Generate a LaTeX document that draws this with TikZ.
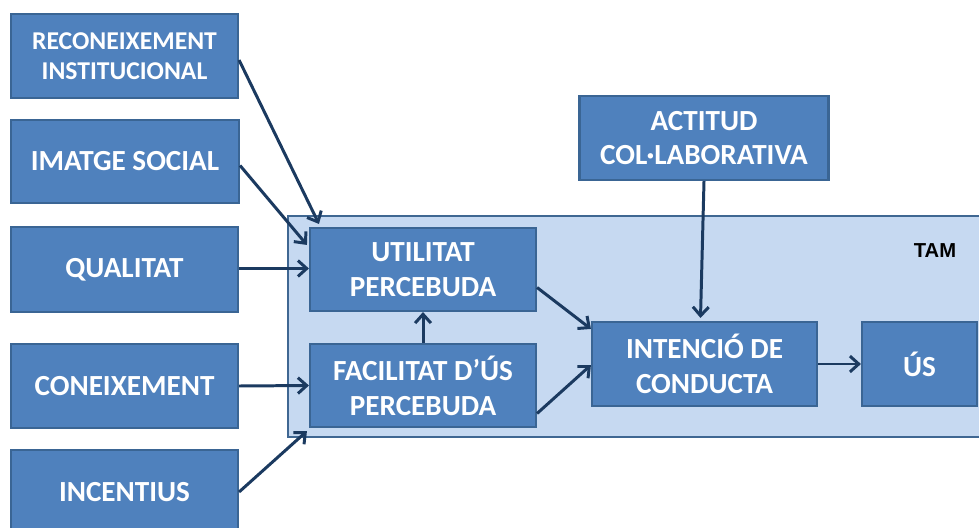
\documentclass[tikz,border=0pt]{standalone}
\usepackage{fontspec}
\newfontfamily\carlito{Carlito}
\newfontfamily\libsans{Liberation Sans}
\usetikzlibrary{arrows.meta,calc}
\definecolor{boxc}{HTML}{4F81BD}
\definecolor{bordc}{HTML}{3A6594}
\definecolor{contc}{HTML}{C6D9F1}
\definecolor{contb}{HTML}{3F6792}
\definecolor{arrc}{HTML}{1B3A60}
\tikzset{
  box/.style={draw=bordc, fill=boxc, line width=1.2pt, inner sep=0pt, text=white, align=center,
    font=\carlito\bfseries\fontsize{16.6}{19.8}\selectfont},
  smallbox/.style={box, font=\carlito\bfseries\fontsize{14.6}{17}\selectfont},
  cont/.style={draw=contb, fill=contc, line width=1.4pt, inner sep=0pt},
  conn/.style={draw=arrc, line width=1.7pt, -{Straight Barb[length=5pt,width=9pt]}},
}
\begin{document}
\begin{tikzpicture}[x=0.02cm,y=-0.02cm]
\useasboundingbox (0,0) rectangle (979,527);
\clip (0,0) rectangle (979,527);
\fill[white] (0,0) rectangle (979,527);
% container
\node[cont, minimum width=712*0.02cm, minimum height=221*0.02cm] (tam) at (644,326.5) {};
\node[font=\libsans\bfseries\fontsize{11.5}{13}\selectfont, text=black] (tamlbl) at (935,251) {TAM};
% left boxes
\node[smallbox, minimum width=227*0.02cm, minimum height=84*0.02cm] (b1) at (124.5,56) {RECONEIXEMENT\\INSTITUCIONAL};
\node[box, minimum width=228*0.02cm, minimum height=83*0.02cm] (b2) at (125,161.5) {IMATGE SOCIAL};
\node[box, minimum width=227*0.02cm, minimum height=85*0.02cm] (b3) at (124.5,269.5) {QUALITAT};
\node[box, minimum width=227*0.02cm, minimum height=84*0.02cm] (b4) at (124.5,386) {CONEIXEMENT};
\node[box, minimum width=227*0.02cm, minimum height=84*0.02cm] (b5) at (124.5,492) {INCENTIUS};
% inner boxes
\node[box, minimum width=226*0.02cm, minimum height=83*0.02cm] (util) at (423,269.5) {UTILITAT\\PERCEBUDA};
\node[box, minimum width=226*0.02cm, minimum height=83*0.02cm] (fac) at (423,385.5) {FACILITAT D’ÚS\\PERCEBUDA};
\node[box, minimum width=225*0.02cm, minimum height=84*0.02cm] (int) at (704.5,364) {INTENCIÓ DE\\CONDUCTA};
\node[box, minimum width=115*0.02cm, minimum height=84*0.02cm] (us) at (919.5,364) {ÚS};
\node[box, minimum width=249*0.02cm, minimum height=84*0.02cm] (act) at (704,138) {ACTITUD\\COL·LABORATIVA};
% connectors
\draw[conn] ($(b1.east)+(0,4)$) -- ($(util.north west)+(10,-3)$);
\draw[conn] ($(b2.east)+(0,4)$) -- ($(util.north west)+(-2,18)$);
\draw[conn] ($(b3.east)+(0,-1)$) -- ($(util.west)+(0,-1)$);
\draw[conn] (b4.east) -- (fac.west);
\draw[conn] (b5.east) -- ($(fac.south west)+(-2,3)$);
\draw[conn] (fac.north) -- (util.south);
\draw[conn] ($(util.east)+(0,18)$) -- ($(int.north west)+(0,8)$);
\draw[conn] ($(fac.east)+(0,28)$) -- ($(int.west)+(0,1)$);
\draw[conn] (act.south) -- ($(int.north)+(-4,-3)$);
\draw[conn] (int.east) -- (us.west);
\end{tikzpicture}
\end{document}
